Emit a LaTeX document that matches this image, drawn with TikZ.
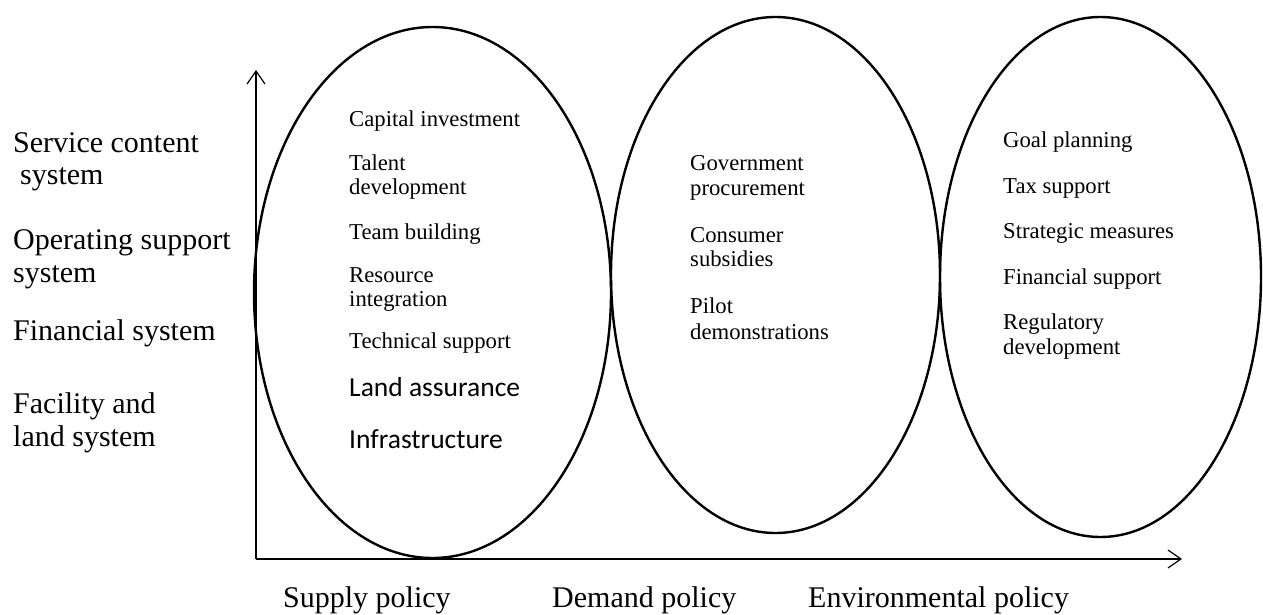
\documentclass[tikz,border=0pt]{standalone}
\usepackage{fontspec}
\setmainfont{Liberation Serif}
\newfontfamily\calibrif{Carlito}
\usetikzlibrary{shapes.geometric,arrows.meta}
\begin{document}
\begin{tikzpicture}[x=1pt,y=-1pt,
  oval/.style={ellipse,draw,line width=2.4pt,inner sep=0pt},
  axisline/.style={line width=1.2pt,-{Straight Barb[length=13pt,width=18pt,line width=1.2pt]}},
  big/.style={font=\fontsize{30}{33}\selectfont,inner sep=0pt,anchor=base west},
  item/.style={font=\fontsize{22.7}{24.5}\selectfont,inner sep=0pt,anchor=base west},
  sitem/.style={font=\calibrif\fontsize{27.5}{30}\selectfont,inner sep=0pt,anchor=base west}]
\useasboundingbox (0,0) rectangle (1263,615);
% axes
\coordinate (O) at (256,559);
\coordinate (ytop) at (256,70);
\coordinate (xend) at (1182,559);
\draw[axisline] (O) -- (ytop);
\draw[axisline] (O) -- (xend);
% ellipses
\node[oval,minimum width=357pt,minimum height=531pt] (supply) at (432.5,292.5) {};
\node[oval,minimum width=329pt,minimum height=516pt] (demand) at (775.5,275) {};
\node[oval,minimum width=321pt,minimum height=520pt] (env) at (1100.5,277) {};
% left labels
\node[big] (l1a) at (13,152) {Service content};
\node[big] (l1b) at (20,184) {system};
\node[big] (l2a) at (13,249) {Operating support};
\node[big] (l2b) at (13,282) {system};
\node[big] (l3) at (13,340) {Financial system};
\node[big] (l4a) at (13,413) {Facility and};
\node[big] (l4b) at (13,446) {land system};
% bottom labels
\node[big] (b1) at (283,607) {Supply policy};
\node[big] (b2) at (552,607) {Demand policy};
\node[big] (b3) at (808,607) {Environmental policy};
% supply items
\node[item] (s1) at (349,127) {Capital investment};
\node[item] (s2a) at (349,170) {Talent};
\node[item] (s2b) at (349,194) {development};
\node[item] (s3) at (349,239) {Team building};
\node[item] (s4a) at (349,282) {Resource};
\node[item] (s4b) at (349,306) {integration};
\node[item] (s5) at (349,348) {Technical support};
\node[sitem] (s6) at (349,396) {Land assurance};
\node[sitem] (s7) at (349,448) {Infrastructure};
% demand items
\node[item] (d1a) at (690,170) {Government};
\node[item] (d1b) at (690,195) {procurement};
\node[item] (d2a) at (690,242) {Consumer};
\node[item] (d2b) at (690,266) {subsidies};
\node[item] (d3a) at (690,313) {Pilot};
\node[item] (d3b) at (690,339) {demonstrations};
% environmental items
\node[item] (e1) at (1003,147) {Goal planning};
\node[item] (e2) at (1003,193) {Tax support};
\node[item] (e3) at (1003,238) {Strategic measures};
\node[item] (e4) at (1003,284) {Financial support};
\node[item] (e5a) at (1003,329) {Regulatory};
\node[item] (e5b) at (1003,354) {development};
\end{tikzpicture}
\end{document}
